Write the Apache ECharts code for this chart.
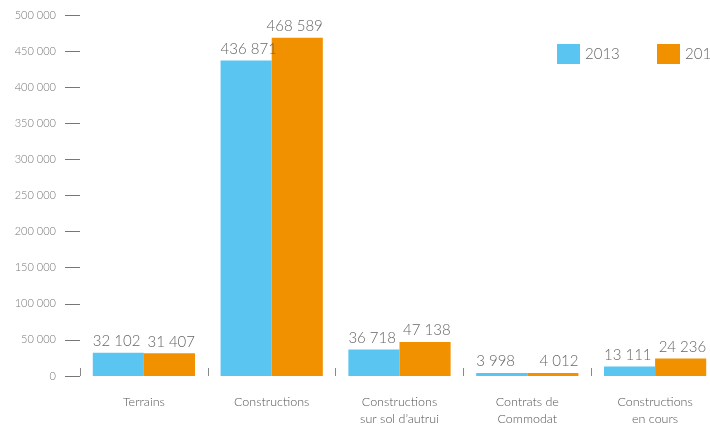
<!DOCTYPE html>
<html><head><meta charset="utf-8">
<script src="https://cdn.jsdelivr.net/npm/echarts@6/dist/echarts.min.js"></script>
<style>html,body{margin:0;padding:0;background:#fff;overflow:hidden}#c{width:720px;height:427px}</style>
</head><body><div id="c"></div>
<script>
var categories = ['Terrains', 'Constructions', 'Constructions\nsur sol d\u2019autrui', 'Contrats de\nCommodat', 'Constructions\nen cours'];
var seriesNames = ['2013', '2014'];
var values2013 = [32102, 436871, 36718, 3998, 13111];
var values2014 = [31407, 468589, 47138, 4012, 24236];
var yMax = 500000, yInterval = 50000;

function fmt(v){ return String(v).replace(/\B(?=(\d{3})+(?!\d))/g, ' '); }
var FONT = 'Lato';
var chart = echarts.init(document.getElementById('c'));
var legendBase = {
  top: 39, itemWidth: 23, itemHeight: 20, icon: 'rect', orient: 'horizontal',
  textStyle: {fontSize: 15, color: '#666', fontFamily: FONT, fontWeight: 300}
};
chart.setOption({
  animation: false,
  textStyle: {fontFamily: FONT},
  grid: {left: 80, right: 1, top: 15, bottom: 50},
  legend: [
    Object.assign({}, legendBase, {left: 552, data: [seriesNames[0]]}),
    Object.assign({}, legendBase, {left: 652, data: [seriesNames[1]]})
  ],
  xAxis: {
    type: 'category', data: categories,
    axisLine: {show: false},
    axisTick: {show: true, inside: true, length: 8, lineStyle: {color: '#888'}},
    axisLabel: {fontSize: 12.5, color: '#555', margin: 17, lineHeight: 17, fontFamily: FONT, fontWeight: 300}
  },
  yAxis: {
    type: 'value', min: 0, max: yMax, interval: yInterval,
    splitLine: {show: false},
    axisLine: {show: false},
    axisTick: {show: true, length: 15, lineStyle: {color: '#777'}},
    axisLabel: {fontSize: 11, color: '#777', margin: 24, formatter: fmt, fontFamily: FONT, fontWeight: 300}
  },
  series: [
    {name: seriesNames[0], type: 'bar', data: values2013, barGap: '0%', barCategoryGap: '20%',
     itemStyle: {color: '#5BC5F2'},
     label: {show: true, position: [0, -4], align: 'left', verticalAlign: 'bottom', fontSize: 15, color: '#666', fontFamily: FONT, fontWeight: 300,
       formatter: function(p){ return fmt(p.value); }}},
    {name: seriesNames[1], type: 'bar', data: values2014,
     itemStyle: {color: '#F29100'},
     label: {show: true, position: ['100%', -4], align: 'right', verticalAlign: 'bottom', fontSize: 15, color: '#666', fontFamily: FONT, fontWeight: 300,
       formatter: function(p){ return fmt(p.value); }}}
  ]
});
</script></body></html>
